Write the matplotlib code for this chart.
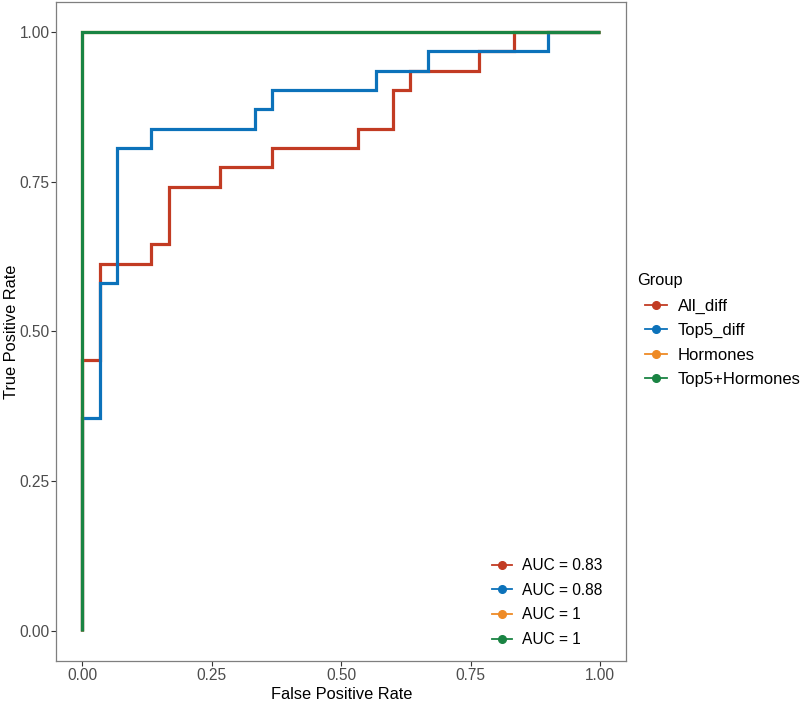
import matplotlib
matplotlib.use("Agg")
import matplotlib.pyplot as plt
from matplotlib.lines import Line2D

plt.rcParams["font.family"] = ["Liberation Sans", "DejaVu Sans"]

# ROC step coordinates
all_fpr = [0, 0, 0.0333, 0.0333, 0.1333, 0.1333, 0.1667, 0.1667, 0.2667, 0.2667,
           0.3667, 0.3667, 0.5333, 0.5333, 0.6, 0.6, 0.6333, 0.6333, 0.7667, 0.7667,
           0.8333, 0.8333, 1]
all_tpr = [0, 0.4516, 0.4516, 0.6129, 0.6129, 0.6452, 0.6452, 0.7419, 0.7419, 0.7742,
           0.7742, 0.8065, 0.8065, 0.8387, 0.8387, 0.9032, 0.9032, 0.9355, 0.9355, 0.9677,
           0.9677, 1, 1]

top5_fpr = [0, 0, 0.0333, 0.0333, 0.0667, 0.0667, 0.1333, 0.1333, 0.3333, 0.3333,
            0.3667, 0.3667, 0.5667, 0.5667, 0.6667, 0.6667, 0.9, 0.9, 1]
top5_tpr = [0, 0.3548, 0.3548, 0.5806, 0.5806, 0.8065, 0.8065, 0.8387, 0.8387, 0.8710,
            0.8710, 0.9032, 0.9032, 0.9355, 0.9355, 0.9677, 0.9677, 1, 1]

horm_fpr = [0, 0, 1]
horm_tpr = [0, 1, 1]

combo_fpr = [0, 0, 1]
combo_tpr = [0, 1, 1]

groups = ["All_diff", "Top5_diff", "Hormones", "Top5+Hormones"]
auc_labels = ["AUC = 0.83", "AUC = 0.88", "AUC = 1", "AUC = 1"]
colors = ["#C23B23", "#0C72BA", "#EE8A25", "#1A8443"]
ticks = [0, 0.25, 0.5, 0.75, 1]
tick_labels = ["0.00", "0.25", "0.50", "0.75", "1.00"]

fig = plt.figure(figsize=(8.03, 7.02), dpi=100)
ax = fig.add_axes([56.4 / 803, 1 - 660.6 / 702, (626 - 56.4) / 803, (660.6 - 2.1) / 702])

curves = [(all_fpr, all_tpr), (top5_fpr, top5_tpr), (horm_fpr, horm_tpr), (combo_fpr, combo_tpr)]
for (x, y), c in zip(curves, colors):
    ax.plot(x, y, color=c, linewidth=2.3, solid_joinstyle="miter", solid_capstyle="butt")

ax.set_xlim(-0.05, 1.05)
ax.set_ylim(-0.05, 1.05)
ax.set_xticks(ticks)
ax.set_xticklabels(tick_labels)
ax.set_yticks(ticks)
ax.set_yticklabels(tick_labels)
ax.tick_params(colors="#333333", labelcolor="#4D4D4D", labelsize=11.2, length=3.5, width=0.8, pad=2)
ax.tick_params(axis="y", pad=1.2)
for s in ax.spines.values():
    s.set_color("#7F7F7F")
    s.set_linewidth(0.9)
ax.set_xlabel("False Positive Rate", fontsize=11.8, labelpad=3)
ax.set_ylabel("True Positive Rate", fontsize=11.8)
ax.yaxis.set_label_coords((12 - 56.4) / 569.6, 0.5)
ax.yaxis.label.set_va("center")

handles = [Line2D([], [], color=c, linewidth=1.3, marker="o", markersize=5.5) for c in colors]

fig.text(637 / 803, 1 - 281 / 702, "Group", fontsize=11.8, va="center", ha="left")
leg1 = fig.legend(handles, groups, loc="upper left",
                  bbox_to_anchor=(645 / 803, 1 - 299 / 702), frameon=False,
                  fontsize=12, handlelength=1.3, handletextpad=0.68,
                  labelspacing=0.55, borderpad=0, borderaxespad=0)

leg2 = ax.legend(handles, auc_labels, loc="lower left",
                 bbox_to_anchor=(492 / 803, 1 - 647 / 702), bbox_transform=fig.transFigure,
                 frameon=False, fontsize=11.2, handlelength=1.3, handletextpad=0.6,
                 labelspacing=0.62, borderpad=0, borderaxespad=0)

fig.savefig("out.png", dpi=100)
